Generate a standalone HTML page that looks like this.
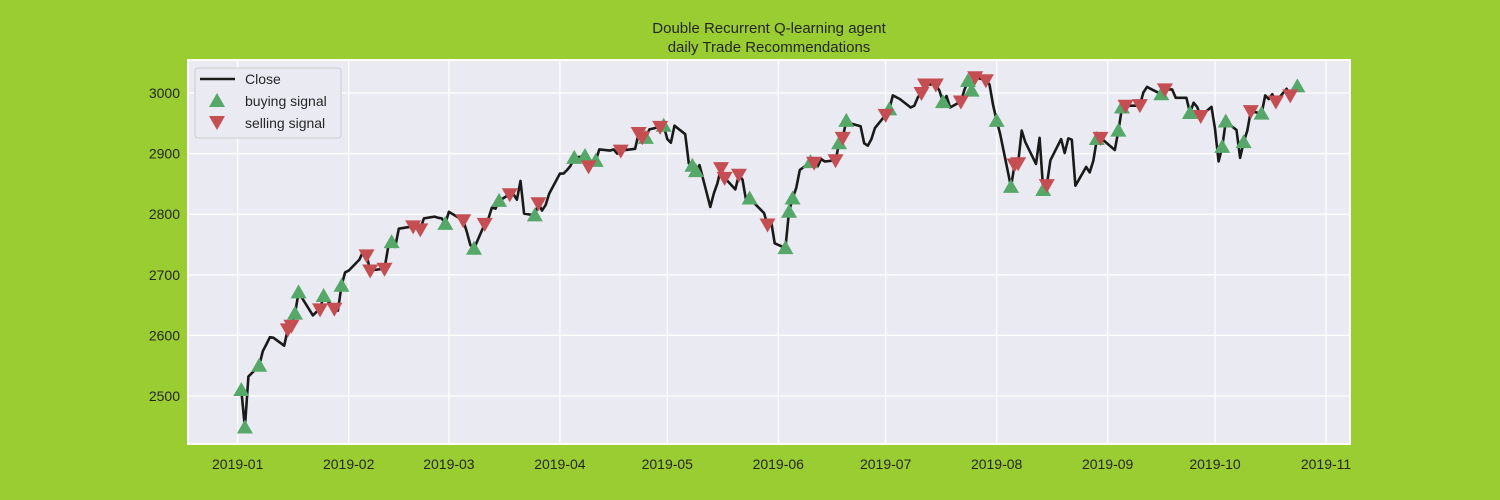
<!DOCTYPE html>
<html><head><meta charset="utf-8"><style>
html,body{margin:0;padding:0;background:#9acd32;}
svg{display:block;font-family:"Liberation Sans",sans-serif;}
</style></head><body>
<svg id="chart" width="1500" height="500" xmlns="http://www.w3.org/2000/svg">
<rect width="1500" height="500" fill="#9acd32"/>
<rect x="188" y="60" width="1162" height="384" fill="#eaeaf2" stroke="#ffffff" stroke-width="2"/>
<g id="grid"></g>
<g id="xt"></g><g id="yt"></g>
<path id="line" fill="none" stroke="#1a1a1a" stroke-width="2.6" stroke-linejoin="round"/>
<g id="marks"></g>
<text x="769" y="33" text-anchor="middle" font-size="15" fill="#262626">Double Recurrent Q-learning agent</text>
<text x="769" y="52" text-anchor="middle" font-size="15" fill="#262626">daily Trade Recommendations</text>
<g>
<rect x="195" y="68" width="146" height="70" rx="3" fill="#eaeaf2" stroke="#cccccc" opacity="0.9"/>
<line x1="200" y1="79" x2="235" y2="79" stroke="#1a1a1a" stroke-width="2.6"/>
<text x="245" y="84" font-size="14" fill="#262626">Close</text>
<polygon points="217,93 225,107 209,107" fill="#55a868"/>
<text x="245" y="106" font-size="14" fill="#262626">buying signal</text>
<polygon points="209,116 225,116 217,130" fill="#c44e52"/>
<text x="245" y="128" font-size="14" fill="#262626">selling signal</text>
</g>
</svg>
<script>
const dates=["01-02","01-03","01-04","01-07","01-08","01-09","01-10","01-11","01-14","01-15","01-16","01-17","01-18","01-22","01-23","01-24","01-25","01-28","01-29","01-30","01-31",
"02-01","02-04","02-05","02-06","02-07","02-08","02-11","02-12","02-13","02-14","02-15","02-19","02-20","02-21","02-22","02-25","02-26","02-27","02-28",
"03-01","03-04","03-05","03-06","03-07","03-08","03-11","03-12","03-13","03-14","03-15","03-18","03-19","03-20","03-21","03-22","03-25","03-26","03-27","03-28","03-29",
"04-01","04-02","04-03","04-04","04-05","04-08","04-09","04-10","04-11","04-12","04-15","04-16","04-17","04-18","04-22","04-23","04-24","04-25","04-26","04-29","04-30",
"05-01","05-02","05-03","05-06","05-07","05-08","05-09","05-10","05-13","05-14","05-15","05-16","05-17","05-20","05-21","05-22","05-23","05-24","05-28","05-29","05-30","05-31",
"06-03","06-04","06-05","06-06","06-07","06-10","06-11","06-12","06-13","06-14","06-17","06-18","06-19","06-20","06-21","06-24","06-25","06-26","06-27","06-28",
"07-01","07-02","07-03","07-05","07-08","07-09","07-10","07-11","07-12","07-15","07-16","07-17","07-18","07-19","07-22","07-23","07-24","07-25","07-26","07-29","07-30","07-31",
"08-01","08-02","08-05","08-06","08-07","08-08","08-09","08-12","08-13","08-14","08-15","08-16","08-19","08-20","08-21","08-22","08-23","08-26","08-27","08-28","08-29","08-30",
"09-03","09-04","09-05","09-06","09-09","09-10","09-11","09-12","09-13","09-16","09-17","09-18","09-19","09-20","09-23","09-24","09-25","09-26","09-27","09-30",
"10-01","10-02","10-03","10-04","10-07","10-08","10-09","10-10","10-11","10-14","10-15","10-16","10-17","10-18","10-21","10-22","10-23","10-24"];
const closes=[2510,2448,2532,2550,2574,2585,2597,2596,2583,2610,2616,2636,2671,2633,2639,2643,2665,2644,2641,2682,2704,
2707,2725,2738,2732,2707,2708,2710,2745,2754,2746,2776,2780,2785,2775,2793,2796,2794,2793,2784,
2804,2793,2790,2771,2749,2743,2784,2792,2811,2809,2822,2833,2833,2824,2855,2801,2798,2818,2806,2815,2834,
2867,2867,2873,2880,2893,2896,2879,2888,2888,2907,2905,2907,2900,2905,2908,2934,2927,2926,2940,2944,2946,
2924,2918,2946,2932,2884,2880,2871,2881,2812,2834,2851,2876,2860,2841,2865,2857,2823,2826,2802,2783,2789,2752,
2744,2804,2826,2843,2873,2886,2885,2879,2891,2887,2889,2917,2926,2954,2950,2945,2917,2913,2924,2942,
2964,2973,2996,2990,2976,2979,2993,3000,3014,3014,3004,2985,2995,2976,2986,3005,3020,3004,3026,3021,3014,2980,
2954,2932,2845,2882,2884,2938,2919,2883,2926,2840,2848,2889,2924,2901,2925,2923,2847,2878,2869,2888,2924,2926,
2906,2938,2976,2979,2979,2980,3001,3010,3007,2998,3006,3006,3006,2992,2992,2967,2984,2977,2962,2977,
2941,2887,2911,2953,2939,2893,2919,2938,2970,2966,2996,2990,2998,2986,3007,2996,3005,3011];
const buyDates=["01-02","01-03","01-07","01-17","01-18","01-25","01-30","02-13","02-28","03-08","03-15","03-25","04-05","04-08","04-11","04-25","04-30","05-08","05-09","05-24","06-03","06-04","06-05","06-10","06-18","06-20","07-02","07-17","07-24","07-25","08-01","08-05","08-14","08-29","09-04","09-05","09-16","09-24","10-03","10-04","10-09","10-14","10-24"];
const sellDates=["01-15","01-16","01-24","01-28","02-06","02-07","02-11","02-19","02-21","03-05","03-11","03-18","03-26","04-09","04-18","04-23","04-24","04-29","05-16","05-17","05-21","05-29","06-11","06-17","06-19","07-01","07-11","07-12","07-15","07-22","07-26","07-29","08-06","08-07","08-15","08-30","09-06","09-10","09-17","09-27","10-11","10-18","10-22"];
const yTicks=[2500,2600,2700,2800,2900,3000];
const xTickLabels=["2019-01","2019-02","2019-03","2019-04","2019-05","2019-06","2019-07","2019-08","2019-09","2019-10","2019-11"];
const NS="http://www.w3.org/2000/svg";
const cum=[0,31,59,90,120,151,181,212,243,273,304];
function dayOf(d){const m=+d.slice(0,2),dd=+d.slice(3);return cum[m-1]+dd-1;}
function X(day){return 237.7+day*3.58;}
function Y(v){return 396-(v-2500)*0.606;}
function mk(t,a,p){const e=document.createElementNS(NS,t);for(const k in a)e.setAttribute(k,a[k]);p.appendChild(e);return e;}
const grid=document.getElementById('grid'),xt=document.getElementById('xt'),yt=document.getElementById('yt');
yTicks.forEach(v=>{
 const l=mk('line',{x1:188,x2:1350,y1:Y(v),y2:Y(v),stroke:'#fff','stroke-width':1.3},grid);
 
 
 const t=mk('text',{x:180,y:Y(v)+5,'text-anchor':'end','font-size':14,fill:'#262626'},yt);
 t.textContent=v;
 
 
});
xTickLabels.forEach((s,i)=>{
 const x=X(cum[i]);
 const l=mk('line',{x1:x,x2:x,y1:60,y2:444,stroke:'#fff','stroke-width':1.3},grid);
 
 
 const t=mk('text',{x:x,y:469,'text-anchor':'middle','font-size':14,fill:'#262626'},xt);
 t.textContent=s;
 
 
});
document.getElementById('line').setAttribute('d',dates.map((d,i)=>(i?'L':'M')+X(dayOf(d)).toFixed(1)+','+Y(closes[i]).toFixed(1)).join(''));
const marks=document.getElementById('marks');
function val(d){const i=dates.indexOf(d);return i<0?null:closes[i];}
buyDates.forEach(d=>{const v=val(d);if(v==null)return;const x=X(dayOf(d)),y=Y(v);
 const p=mk('polygon',{points:`${x},${y-8} ${x+8},${y+6} ${x-8},${y+6}`,fill:'#55a868'},marks);
 
 });
sellDates.forEach(d=>{const v=val(d);if(v==null)return;const x=X(dayOf(d)),y=Y(v);
 const p=mk('polygon',{points:`${x-8},${y-6} ${x+8},${y-6} ${x},${y+8}`,fill:'#c44e52'},marks);
 
 });
</script>
</body></html>
